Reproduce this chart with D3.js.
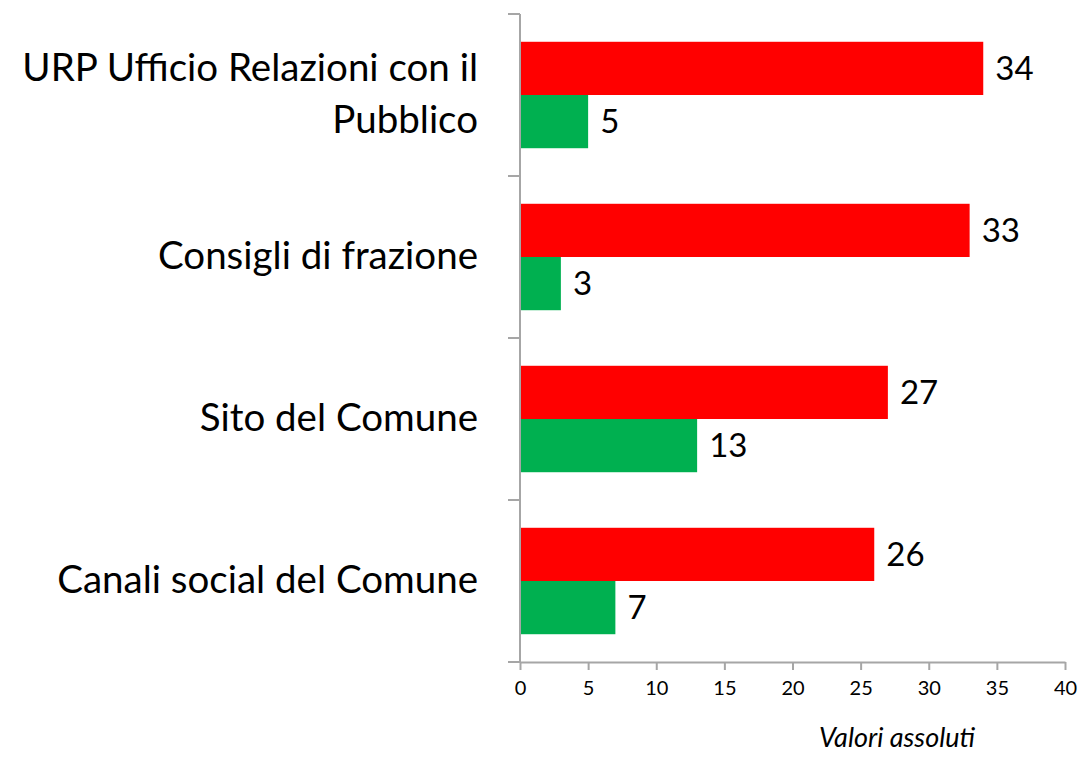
<!DOCTYPE html>
<html>
<head>
<meta charset="utf-8">
<script src="https://cdn.jsdelivr.net/npm/d3@7"></script>
<style>
  body { margin: 0; background: #fff; }
  svg { display: block; font-family: Lato, "Open Sans", sans-serif; }
</style>
</head>
<body>
<svg id="chart" width="1078" height="758"></svg>
<script>
// categories, top to bottom
var categories = [
  ["URP Ufficio Relazioni con il", "Pubblico"],
  ["Consigli di frazione"],
  ["Sito del Comune"],
  ["Canali social del Comune"]
];
var redValues = [34, 33, 27, 26];
var greenValues = [5, 3, 13, 7];
var xTicks = [0, 5, 10, 15, 20, 25, 30, 35, 40];
var xTitle = "Valori assoluti";

var margin = { top: 14, left: 520, right: 13, bottom: 96 };
var width = 1078, height = 758;

var svg = d3.select("#chart");

var x = d3.scaleLinear().domain([0, 40]).range([margin.left, width - margin.right]);

var y = d3.scaleBand()
  .domain(d3.range(categories.length))
  .range([margin.top, height - margin.bottom])
  .paddingInner(0.343)
  .paddingOuter(0.1715);

var step = y.step();
var axisColor = "#a6a6a6";

// bars
var bars = svg.append("g");
var half = y.bandwidth() / 2;

bars.selectAll("rect.red")
  .data(redValues)
  .join("rect")
  .attr("class", "red")
  .attr("x", x(0))
  .attr("y", (d, i) => y(i))
  .attr("width", d => x(d) - x(0))
  .attr("height", half)
  .attr("fill", "#ff0000");

bars.selectAll("rect.green")
  .data(greenValues)
  .join("rect")
  .attr("class", "green")
  .attr("x", x(0))
  .attr("y", (d, i) => y(i) + half)
  .attr("width", d => x(d) - x(0))
  .attr("height", half)
  .attr("fill", "#00b050");

// value labels
bars.selectAll("text.rv")
  .data(redValues)
  .join("text")
  .attr("x", d => x(d) + 12)
  .attr("y", (d, i) => y(i) + half / 2)
  .attr("dy", "0.36em")
  .attr("font-size", 33)
  .text(d => d);

bars.selectAll("text.gv")
  .data(greenValues)
  .join("text")
  .attr("x", d => x(d) + 12)
  .attr("y", (d, i) => y(i) + half * 1.5)
  .attr("dy", "0.36em")
  .attr("font-size", 33)
  .text(d => d);

// x axis
var xAxis = svg.append("g")
  .attr("transform", "translate(0," + (height - margin.bottom) + ")")
  .call(d3.axisBottom(x).tickValues(xTicks).tickSize(8).tickSizeOuter(0).tickPadding(11));
xAxis.select(".domain").attr("stroke", axisColor).attr("stroke-width", 2);
xAxis.selectAll(".tick line").attr("stroke", axisColor).attr("stroke-width", 2);
xAxis.selectAll(".tick text")
  .attr("font-size", 20)
  .attr("font-family", "Lato, 'Open Sans', sans-serif")
  .attr("fill", "#000");

// y axis: line with ticks at band boundaries
var yAxis = svg.append("g");
yAxis.append("line")
  .attr("x1", x(0)).attr("x2", x(0))
  .attr("y1", margin.top).attr("y2", height - margin.bottom)
  .attr("stroke", axisColor).attr("stroke-width", 2);
yAxis.selectAll("line.tk")
  .data(d3.range(categories.length + 1))
  .join("line")
  .attr("class", "tk")
  .attr("x1", x(0) - 12).attr("x2", x(0))
  .attr("y1", i => margin.top + i * step)
  .attr("y2", i => margin.top + i * step)
  .attr("stroke", axisColor).attr("stroke-width", 2);

// category labels
var labels = svg.append("g")
  .attr("text-anchor", "end")
  .attr("font-size", 38.5);
categories.forEach(function (lines, i) {
  var cy = y(i) + y.bandwidth() / 2;
  var t = labels.append("text").attr("x", 478);
  lines.forEach(function (line, j) {
    t.append("tspan")
      .attr("x", 478)
      .attr("y", cy - 2 + (j - (lines.length - 1) / 2) * 52)
      .attr("dy", "0.36em")
      .text(line);
  });
});

// axis title
svg.append("text")
  .attr("x", 897)
  .attr("y", 738)
  .attr("dy", "0.35em")
  .attr("text-anchor", "middle")
  .attr("font-style", "italic")
  .attr("font-size", 27)
  .text(xTitle);
</script>
</body>
</html>
